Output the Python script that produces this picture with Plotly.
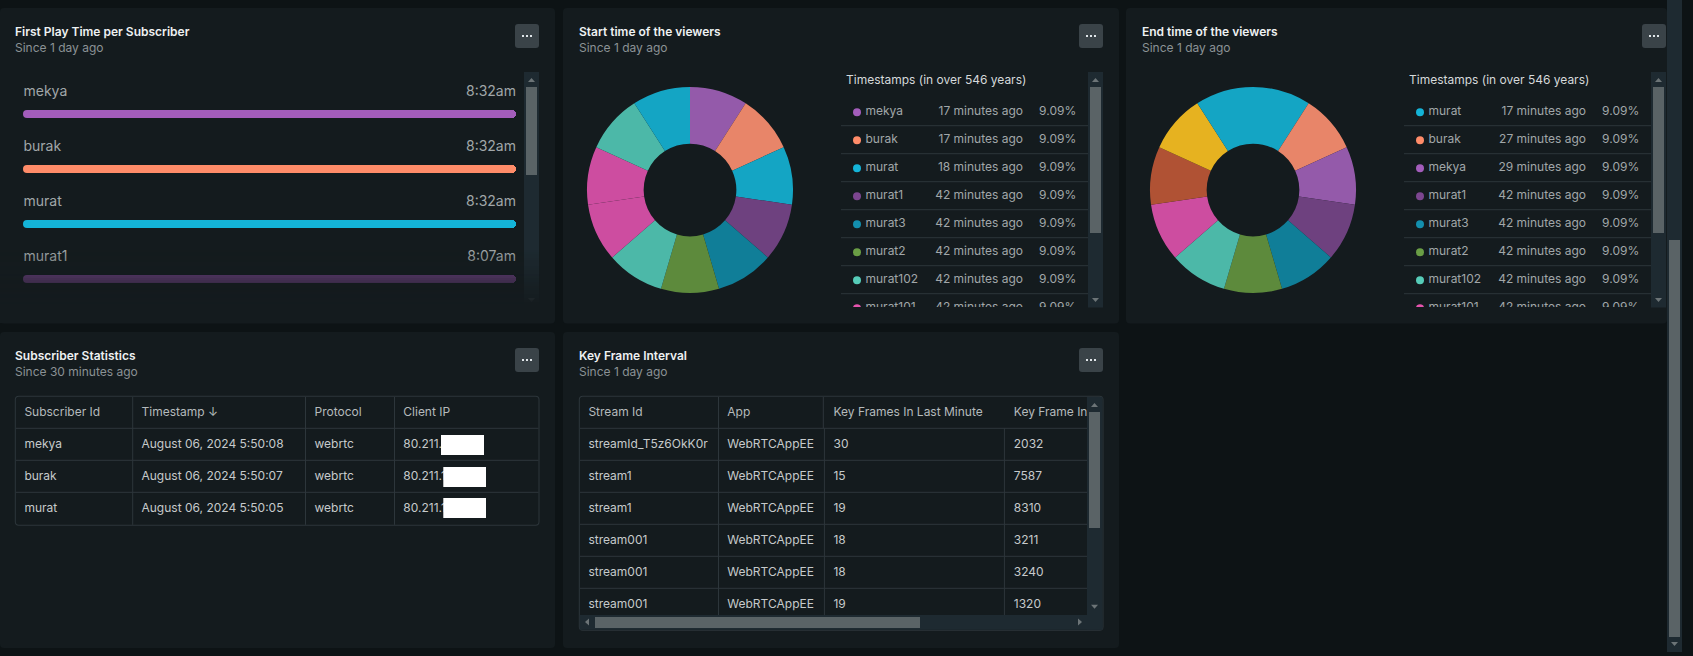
"""Dark dashboard: bar list, two donuts with side lists, two tables."""

import plotly.graph_objects as go

W, H = 1693, 656
FONT = "Inter"

PAGE_BG = "#0d1315"
PANEL_BG = "#141b1e"
TRACK = "#1e2a31"
THUMB = "#5a6366"
BUTTON = "#3a4348"
GRID = "#2d363b"
TITLE_COL = "#eef1f2"
SUB_COL = "#8b9295"
LABEL_COL = "#a1a7a9"
CELL_COL = "#c6cacb"
HEAD_COL = "#b4babc"

# -- data ---------------------------------------------------------------
subscribers = ["mekya", "burak", "murat", "murat1", "murat3"]
first_play = ["8:32am", "8:32am", "8:32am", "8:07am", "8:07am"]
bar_values = [1, 1, 1, 1, 1]
bar_colors = ["#a35dbb", "#ff8c69", "#14b4d8", "#7c4690", "#138fae"]

slice_values = [9.09] * 11

start_names = ["mekya", "burak", "murat", "murat1", "murat3", "murat2",
               "murat102", "murat101", "murat100", "murat99", "murat98"]
start_times = ["17 minutes ago", "17 minutes ago", "18 minutes ago", "42 minutes ago",
               "42 minutes ago", "42 minutes ago", "42 minutes ago", "42 minutes ago"]
start_slices = ["#945aaa", "#e88569", "#14a5c4", "#6e417f", "#107e98", "#5d8a3c",
                "#4cb8a8", "#cd4da0", "#cd4da0", "#4cb8a8", "#14a5c4"]
start_dots = ["#a35dbb", "#ff8c69", "#14b4d8", "#7c4690", "#138fae", "#6a9e45",
              "#56ccb8", "#e654ae"]

end_names = ["murat", "burak", "mekya", "murat1", "murat3", "murat2",
             "murat102", "murat101", "murat100", "murat99", "murat98"]
end_times = ["17 minutes ago", "27 minutes ago", "29 minutes ago", "42 minutes ago",
             "42 minutes ago", "42 minutes ago", "42 minutes ago", "42 minutes ago"]
end_slices = ["#14a5c4", "#e88569", "#945aaa", "#6e417f", "#107e98", "#5d8a3c",
              "#4cb8a8", "#cd4da0", "#b05234", "#e6b220", "#14a5c4"]
end_dots = ["#14b4d8", "#ff8c69", "#a35dbb", "#7c4690", "#138fae", "#6a9e45",
            "#56ccb8", "#e654ae"]

legend_pct = ["9.09%"] * 8

sub_headers = ["Subscriber Id", "Timestamp ↓", "Protocol", "Client IP"]
sub_ids = ["mekya", "burak", "murat"]
sub_stamps = ["August 06, 2024 5:50:08", "August 06, 2024 5:50:07", "August 06, 2024 5:50:05"]
sub_protocols = ["webrtc", "webrtc", "webrtc"]
sub_ips = ["80.211.", "80.211.1", "80.211.1"]

key_headers = ["Stream Id", "App", "Key Frames In Last Minute", "Key Frame Interval"]
key_streams = ["streamId_T5z6OkK0r", "stream1", "stream1", "stream001", "stream001", "stream001"]
key_apps = ["WebRTCAppEE"] * 6
key_last_minute = ["30", "15", "19", "18", "18", "19"]
key_interval = ["2032", "7587", "8310", "3211", "3240", "1320"]

# -- helpers ------------------------------------------------------------
fig = go.Figure()
shapes = []
annotations = []
axis_count = 0


def px(x):
    return x / W


def py(y):
    return 1 - y / H


def rect(x0, y0, x1, y1, color, r=0, layer="below", opacity=1):
    if r:
        a, b, c, d = px(x0), px(x1), py(y0), py(y1)
        rx, ry = r / W, r / H
        path = (f"M{a + rx},{c} L{b - rx},{c} Q{b},{c} {b},{c - ry} L{b},{d + ry} "
                f"Q{b},{d} {b - rx},{d} L{a + rx},{d} Q{a},{d} {a},{d + ry} "
                f"L{a},{c - ry} Q{a},{c} {a + rx},{c} Z")
        shapes.append(dict(type="path", path=path, xref="paper", yref="paper",
                           fillcolor=color, line_width=0, layer=layer, opacity=opacity))
    else:
        shapes.append(dict(type="rect", xref="paper", yref="paper",
                           x0=px(x0), x1=px(x1), y0=py(y1), y1=py(y0),
                           fillcolor=color, line_width=0, layer=layer, opacity=opacity))


def hline(x0, x1, y, color=GRID):
    shapes.append(dict(type="line", xref="paper", yref="paper", x0=px(x0), x1=px(x1),
                       y0=py(y), y1=py(y), line=dict(color=color, width=1), layer="below"))


def vline(x, y0, y1, color=GRID):
    shapes.append(dict(type="line", xref="paper", yref="paper", x0=px(x), x1=px(x),
                       y0=py(y0), y1=py(y1), line=dict(color=color, width=1), layer="below"))


def frame(x0, y0, x1, y1):
    rect(x0 - 0.5, y0 - 0.5, x1 + 0.5, y1 + 0.5, GRID, r=4)
    rect(x0 + 0.5, y0 + 0.5, x1 - 0.5, y1 - 0.5, PANEL_BG, r=3)


def arrow(x, y, direction, color="#6c7477"):
    s = 3.5
    if direction == "up":
        pts = [(x - s, y + 2), (x + s, y + 2), (x, y - 2)]
    elif direction == "down":
        pts = [(x - s, y - 2), (x + s, y - 2), (x, y + 2)]
    elif direction == "left":
        pts = [(x + 2, y - s), (x + 2, y + s), (x - 2, y)]
    else:
        pts = [(x - 2, y - s), (x - 2, y + s), (x + 2, y)]
    path = "M" + " L".join(f"{px(a)},{py(b)}" for a, b in pts) + " Z"
    shapes.append(dict(type="path", path=path, xref="paper", yref="paper",
                       fillcolor=color, line_width=0, layer="below"))


def label(x, y, text, color, size=12, weight=400, anchor="left"):
    annotations.append(dict(x=px(x), y=py(y), xref="paper", yref="paper", text=text,
                            showarrow=False, xanchor=anchor, yanchor="middle",
                            font=dict(family=FONT, size=size, color=color, weight=weight)))


def panel(x0, y0, x1, y1, title, sub, button_x, inset=13.5):
    rect(x0, y0, x1, y1, PANEL_BG, r=4)
    label(x0 + inset, y0 + 23.3, title, TITLE_COL, weight=600)
    label(x0 + inset, y0 + 39.5, sub, SUB_COL)
    rect(button_x, y0 + 16, button_x + 24, y0 + 40, BUTTON, r=3)
    for dx in (8, 12, 16):
        rect(button_x + dx - 1, y0 + 27, button_x + dx + 1, y0 + 29, "#dfe5e8")


def clip_axes(left, right, top, bottom, xrange, yrange):
    """Invisible axes over a pixel box, so text and marks clip at its edges."""
    global axis_count
    axis_count += 1
    suffix = "" if axis_count == 1 else str(axis_count)
    fig.layout[f"xaxis{suffix}"] = dict(domain=[px(left), px(right)], range=xrange, visible=False,
                                        fixedrange=True, anchor=f"y{suffix}")
    fig.layout[f"yaxis{suffix}"] = dict(domain=[py(bottom), py(top)], range=yrange, visible=False,
                                        fixedrange=True, anchor=f"x{suffix}")
    return f"x{suffix}", f"y{suffix}"


def text_col(axes, xs, ys, texts, color, size=12, align="left"):
    fig.add_trace(go.Scatter(
        x=xs, y=ys, text=texts, mode="text", xaxis=axes[0], yaxis=axes[1],
        textposition="middle right" if align == "left" else "middle left",
        textfont=dict(family=FONT, size=size, color=color),
        hoverinfo="skip", showlegend=False,
    ))


# -- page scrollbar -----------------------------------------------------
rect(1667, 0, 1682, 652, TRACK)
rect(1669, 240, 1680, 637, THUMB)
arrow(1674.5, 644, "down")

# -- first play time bars -----------------------------------------------
panel(0, 8, 555, 323.5, "First Play Time per Subscriber", "Since 1 day ago", 515, inset=12.5)
rect(524, 72, 539, 305, TRACK)
rect(526, 87, 537, 175, THUMB)
arrow(531.5, 80, "up")
arrow(531.5, 300, "down")

PITCH = 55
unit = 1 / 489  # bar axis value per pixel; value 0 sits 4px right of the bar's round end
bars = clip_axes(15, 524, 72, 306, [-12 * unit, 1 + 8 * unit],
                 [(306 - 114) / PITCH, (72 - 114) / PITCH])
rows = list(range(len(subscribers)))
fig.add_trace(go.Bar(
    x=bar_values, y=rows, orientation="h", width=8 / PITCH,
    marker=dict(color=bar_colors, line_width=0, cornerradius=4),
    xaxis=bars[0], yaxis=bars[1], hoverinfo="skip", showlegend=False,
))
fig.add_trace(go.Scatter(
    x=[0] * len(rows), y=rows, mode="markers", xaxis=bars[0], yaxis=bars[1],
    marker=dict(color=bar_colors, size=8), hoverinfo="skip", showlegend=False,
))
label_rows = [r - 21.8 / PITCH for r in rows]
text_col(bars, [-3.5 * unit] * len(rows), label_rows, subscribers, LABEL_COL, size=14)
text_col(bars, [1] * len(rows), label_rows, first_play, LABEL_COL, size=14, align="right")
# bottom fade over the scrolled list
steps = 28
for i in range(steps):
    y0 = 250 + i * 2
    rect(0, y0, 540, y0 + 2, PANEL_BG, layer="above", opacity=(i + 1) / steps)
rect(0, 306, 540, 323, PANEL_BG, layer="above")


# -- donut panels -------------------------------------------------------
def donut_panel(dx, title, names, colors, times, dots, button_x, right=None):
    panel(563 + dx, 8, right or 1119 + dx, 323.5, title, "Since 1 day ago", button_x)
    cx, cy, r = 690 + dx, 190, 103
    fig.add_trace(go.Pie(
        labels=names, values=slice_values, sort=False, direction="clockwise", rotation=0,
        hole=0.45, textinfo="none", marker=dict(colors=colors, line_width=0),
        domain=dict(x=[px(cx - r), px(cx + r)], y=[py(cy + r), py(cy - r)]),
        hoverinfo="label+percent", showlegend=False,
    ))
    label(843.5 + dx, 79.8, "Timestamps (in over 546 years)", "#d5d9da")
    rect(1088 + dx, 72, 1103 + dx, 307.5, TRACK)
    rect(1090 + dx, 87, 1101 + dx, 233, THUMB)
    arrow(1095.5 + dx, 80, "up")
    arrow(1095.5 + dx, 300, "down")
    for i in range(7):
        hline(841 + dx, 1088 + dx, 125.7 + 28 * i)
    axes = clip_axes(841 + dx, 1088 + dx, 98, 307, [841 + dx, 1088 + dx],
                     [(307 - 112.3) / 28, (98 - 112.3) / 28])
    idx = list(range(len(times)))
    fig.add_trace(go.Scatter(
        x=[857 + dx] * len(idx), y=idx, mode="markers", xaxis=axes[0], yaxis=axes[1],
        marker=dict(color=dots, size=8), hoverinfo="skip", showlegend=False,
    ))
    text_col(axes, [865.5 + dx] * len(idx), idx, names[:len(idx)], LABEL_COL)
    text_col(axes, [1023 + dx] * len(idx), idx, times, LABEL_COL, align="right")
    text_col(axes, [1076.2 + dx] * len(idx), idx, legend_pct, LABEL_COL, align="right")


donut_panel(0, "Start time of the viewers", start_names, start_slices, start_times, start_dots, 1079)
donut_panel(563, "End time of the viewers", end_names, end_slices, end_times, end_dots, 1642, right=1667)

# -- subscriber statistics table ----------------------------------------
panel(0, 332, 555, 648, "Subscriber Statistics", "Since 30 minutes ago", 515, inset=12.5)
frame(15.3, 396.3, 539, 525.3)
for y in (428.3, 460.3, 492.3):
    hline(15.8, 538.5, y)
for x in (132.7, 305.5, 394.5):
    vline(x, 396.8, 524.8)
table = clip_axes(15.3, 539, 396.3, 525.3, [15.3, 539], [(525.3 - 413.3) / 32, (396.3 - 413.3) / 32])
sub_x = [24.4, 141.5, 314.5, 403.3]
text_col(table, sub_x, [0] * 4, sub_headers, HEAD_COL)
for x, col in zip(sub_x, [sub_ids, sub_stamps, sub_protocols, sub_ips]):
    text_col(table, [x] * len(col), [1, 2, 3], col, CELL_COL)
# redacted addresses
rect(441, 435, 484, 455, "#ffffff", layer="above")
rect(443.3, 467, 486, 487, "#ffffff", layer="above")
rect(443.3, 498, 486, 518, "#ffffff", layer="above")

# -- key frame table ----------------------------------------------------
panel(563, 332, 1119, 648, "Key Frame Interval", "Since 1 day ago", 1079)
frame(579.3, 396.3, 1103, 630.3)
for y in (428.3, 460.3, 492.3, 524.3, 556.3, 588.3):
    hline(579.8, 1087, y)
vline(718.5, 396.8, 615)
vline(823.3, 396.8, 428.3)
vline(824.4, 428.3, 615)
vline(1004.4, 428.3, 615)
rect(1087, 397, 1102.5, 629.8, TRACK)
rect(579.8, 615, 1102.5, 629.8, TRACK)
rect(1089, 412, 1100, 528, THUMB)
rect(595, 617, 920, 628, THUMB)
arrow(1094.5, 405, "up")
arrow(1094.5, 606.7, "down")
arrow(587, 622, "left")
arrow(1080, 622, "right")
key_table = clip_axes(579.3, 1087, 396.3, 615, [579.3, 1087], [(615 - 413.3) / 32, (396.3 - 413.3) / 32])
key_x = [588.4, 727.3, 833.5, 1013.8]
text_col(key_table, key_x, [0] * 4, key_headers, HEAD_COL)
for x, col in zip(key_x, [key_streams, key_apps, key_last_minute, key_interval]):
    text_col(key_table, [x] * len(col), list(range(1, len(col) + 1)), col, CELL_COL)

fig.update_layout(
    width=W, height=H,
    margin=dict(l=0, r=0, t=0, b=0),
    paper_bgcolor=PAGE_BG, plot_bgcolor="rgba(0,0,0,0)",
    showlegend=False, bargap=0,
    shapes=shapes, annotations=annotations,
)

fig.write_html(
    "out.html",
    config=dict(displayModeBar=False),
    post_script="document.body.style.margin='0';document.body.style.background='#0d1315';"
                "document.body.style.overflow='hidden';",
)
